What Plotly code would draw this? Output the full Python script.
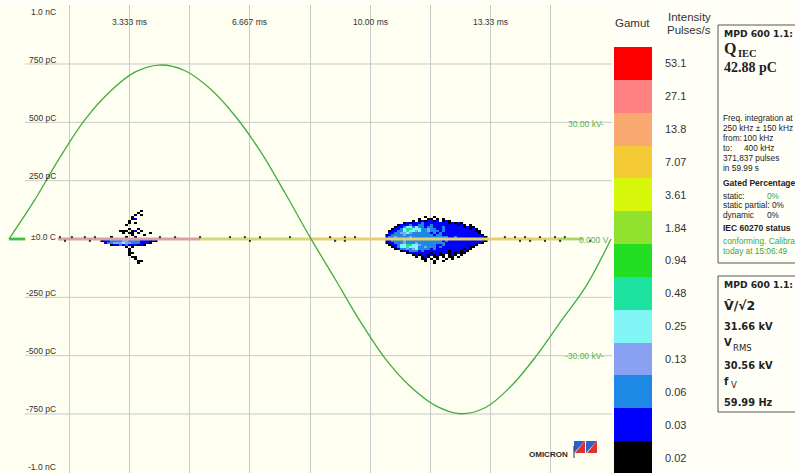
import plotly.graph_objects as go

W, H = 795, 473

# ---------------- data ----------------
period_ms = 16.669  # one cycle at 59.99 Hz

time_tick_values = [3.333, 6.667, 10.00, 13.33]
time_tick_labels = ["3.333 ms", "6.667 ms", "10.00 ms", "13.33 ms"]

charge_tick_values = [1000, 750, 500, 250, 0, -250, -500, -750, -1000]
charge_tick_labels = ["1.0 nC", "750 pC", "500 pC", "250 pC", "±0.0 C",
                      "-250 pC", "-500 pC", "-750 pC", "-1.0 nC"]
charge_grid_values = [750, 500, 250, -250, -500, -750]

voltage_tick_values = [30, 0, -30]
voltage_tick_labels = ["30.00 kV-", "0.000 V", "-30.00 kV-"]

voltage_time_ms = [0.0, 0.695, 1.389, 2.084, 2.778, 3.473, 4.167, 4.862, 5.556,
                   6.251, 6.945, 7.640, 8.334, 9.029, 9.724, 10.418, 11.113,
                   11.807, 12.502, 13.196, 13.891, 14.585, 15.280, 15.974, 16.669]
voltage_kv = [0.0, 9.8, 20.7, 30.5, 37.8, 42.9, 44.8, 43.4, 38.8,
              31.8, 22.8, 11.9, 0.5, -10.3, -21.2, -30.8, -38.0,
              -42.9, -45.0, -43.4, -38.0, -30.3, -21.2, -12.2, 0.0]

# gamut, top to bottom
gamut_labels = ["53.1", "27.1", "13.8", "7.07", "3.61", "1.84", "0.94",
                "0.48", "0.25", "0.13", "0.06", "0.03", "0.02"]
gamut_colors = ["#FF0000", "#FF8080", "#F9A870", "#F5CB35", "#D6F70A", "#90E22F",
                "#22DD22", "#1EE3A0", "#80F5F5", "#8AA0F2", "#1E88E5", "#0000FF",
                "#000000"]
gamut_codes = "rsaoylgtcpmbk"  # one letter per gamut class, top to bottom

# PRPD clusters as class maps (rows from high charge to low charge)
cluster_dt_ms = 0.0831
cluster_dq_pc = 8.571

big_cluster_t0_ms = 10.466
big_cluster_q0_pc = 94.3
big_cluster_rows = [
    ".............k..k",
    "...........k..kk.k.k",
    ".........k.kbkbbkb.kbk",
    "......kbkbbbmbbbbbbbbkbkbk",
    "....kbbbmbbmmbbmbbbbbbbbkbk.k",
    "...kbbmccmcmmbmmbbbmbbbbbbkbkk",
    "..kbbmcttcccmmpmmbbmbbbbbbbbkbk",
    ".kbbmmctccpcmmpmmmbmbbbbbbbbbbkk",
    ".bbmmppcpmmmmmmbmbmbbbbbbbbbbbbk",
    "kbmmmmpmmmmmmmmmbmmbbbbbbbbbbbbbk",
    "bmmpmmmmpmmmmmmmmmmmmbbmbbbbbbbbbk",
    "",
    "bbmmmmpmmmmmmmmmmmmbmbbbbbbbbbbbbk",
    "kbbmmmpmmmpmmmmmmmmmbbbbbbbbbbbbk",
    ".kbbmccttccpmmmmmbbmbbbbbbbbbbk",
    "..kbmcctcccmmpmmmbmbbbbbbbbbkk",
    "...kbmmpmpcmmmmbmbbbbbbbbbkbk",
    ".....kbbmmmbmbbbbbbbbkbbbkbk",
    ".......kbbbbbbbkbbkbbkbkbkk",
    ".........kbkbbkbkbkk.kbk.k",
    "..........k.kbk.kk.k.kk.k",
    "............kk.k.k..k.k",
    ".............k..k..k",
    "................k",
]

small_cluster_t0_ms = 2.575
small_cluster_q0_pc = 120.0
small_cluster_rows = [
    ".............k",
    "............k",
    "...........k.k",
    "..........k",
    "..........kb",
    ".........k",
    ".........k.k",
    "........k",
    "",
    ".........k..k",
    "......kkk.kb.k",
    ".......k.kk.k...k",
    "..........k...k",
    "...k....k..k",
    "",
    "kbbmmmmppmmmmbbbkbk",
    ".bmmpppcppmmmbbbk",
    "...kbbmbmbbbkbk",
    "........k.k",
    ".........k",
    ".........k",
    ".........kk",
    ".........k",
    "..........kk",
    "...........k",
    "............kk",
    "............k",
]

# near-zero noise band segments
band_start_ms = [0.0, 1.35, 5.3, 8.2, 15.2]
band_end_ms = [0.45, 5.3, 8.2, 15.2, 15.9]
band_colors = ["#40C040", "#D9A0A8", "#D5D878", "#E5D070", "#A8D860"]

speck_upper_ms = [1.41, 1.74, 2.10, 2.38, 4.18, 4.60, 5.29, 6.12, 6.53, 6.95,
                  7.78, 8.89, 9.30, 9.58, 13.73, 14.01, 14.29, 14.70, 15.12, 15.39]
speck_lower_ms = [1.55, 2.24, 6.67, 9.03, 9.30, 14.15, 14.43, 14.84, 15.26, 16.09]
speck_upper_pc = 8.0
speck_lower_pc = -8.0

# right-hand info panel
info_freq_lines = ["Freq. integration at", "250 kHz ± 150 kHz"]
info_pulses = "371,837 pulses"
info_time = "in 59.99 s"
q_iec_value = "42.88 pC"
v_peak_value = "31.66 kV"
v_rms_value = "30.56 kV"
f_value = "59.99 Hz"

# ---------------- geometry helpers ----------------
PX_PER_MS = 602 / period_ms
X0_PX = 9
PC_PER_PX = 4.286
Y0_PX = 239
KV_PER_PC = 0.06009


def px(x):
    return x / W


def py(y):
    return 1 - y / H


x_range = [(0 - X0_PX) / PX_PER_MS, (612 - X0_PX) / PX_PER_MS]
y_half = (Y0_PX - 5) * PC_PER_PX
y_range = [-y_half, y_half]
y2_range = [-y_half * KV_PER_PC, y_half * KV_PER_PC]

colors_bottom_up = gamut_colors[::-1]
code_index = {c: 12 - i for i, c in enumerate(gamut_codes)}
colorscale = []
for i, c in enumerate(colors_bottom_up):
    colorscale += [[i / 13, c], [(i + 1) / 13, c]]


def cluster_trace(rows, t0, q0):
    ncols = max(len(r) for r in rows)
    xs = [t0 + j * cluster_dt_ms for j in range(ncols)]
    ys = [q0 - i * cluster_dq_pc for i in range(len(rows))]
    z = []
    for r in rows:
        r = r.ljust(ncols, ".")
        z.append([code_index.get(ch) for ch in r])
    return go.Heatmap(x=xs, y=ys, z=z, colorscale=colorscale, zmin=-0.5, zmax=12.5,
                      showscale=False, hoverinfo="skip", zsmooth=False)


fig = go.Figure()

# noise band along zero
for s, e, c in zip(band_start_ms, band_end_ms, band_colors):
    fig.add_trace(go.Scatter(x=[s, e], y=[0, 0], mode="lines",
                             line=dict(color=c, width=2.8), hoverinfo="skip",
                             showlegend=False))

fig.add_trace(cluster_trace(big_cluster_rows, big_cluster_t0_ms, big_cluster_q0_pc))
fig.add_trace(cluster_trace(small_cluster_rows, small_cluster_t0_ms, small_cluster_q0_pc))

fig.add_trace(go.Scatter(
    x=speck_upper_ms + speck_lower_ms,
    y=[speck_upper_pc] * len(speck_upper_ms) + [speck_lower_pc] * len(speck_lower_ms),
    mode="markers", marker=dict(symbol="square", size=2, color="#303030"),
    hoverinfo="skip", showlegend=False))

# voltage sine
fig.add_trace(go.Scatter(x=voltage_time_ms, y=voltage_kv, yaxis="y2", mode="lines",
                         line=dict(color="#3FAE3F", width=1.3, shape="spline", smoothing=1.0),
                         hoverinfo="skip", showlegend=False))

# gamut legend
fig.add_trace(go.Heatmap(z=[[i] for i in range(13)], x=[0], y=list(range(13)),
                         xaxis="x3", yaxis="y3", colorscale=colorscale,
                         zmin=-0.5, zmax=12.5, showscale=False, hoverinfo="skip"))

grid_ticks = [period_ms * k / 10 for k in range(1, 11)]

shapes = []
for v in charge_grid_values:
    shapes.append(dict(type="line", xref="paper", yref="y", x0=px(25), x1=px(612),
                       y0=v, y1=v, line=dict(color="#C9C9C9", width=1), layer="below"))
# info boxes
for (y0, y1) in [(25, 263), (276, 412)]:
    shapes.append(dict(type="rect", xref="paper", yref="paper", x0=px(718), x1=px(800),
                       y0=py(y0), y1=py(y1), line=dict(color="#555555", width=1)))
# OMICRON logo
for lx in [574, 586]:
    shapes.append(dict(type="path", xref="paper", yref="paper",
                       path=f"M {px(lx)},{py(441)} L {px(lx+11)},{py(441)} L {px(lx)},{py(453)} Z",
                       fillcolor="#2F5FD0", line=dict(width=0)))
    shapes.append(dict(type="path", xref="paper", yref="paper",
                       path=f"M {px(lx+11)},{py(441)} L {px(lx+11)},{py(453)} L {px(lx+1)},{py(453)} Z",
                       fillcolor="#E03030", line=dict(width=0)))
shapes.append(dict(type="line", xref="paper", yref="paper", x0=px(574), x1=px(574),
                   y0=py(446), y1=py(458), line=dict(color="#333", width=1)))

ann = []


def A(text, x, y, size, family="Liberation Sans", color="#222222", xanchor="left",
      yanchor="middle"):
    ann.append(dict(text=text, x=px(x), y=py(y), xref="paper", yref="paper",
                    showarrow=False, xanchor=xanchor, yanchor=yanchor,
                    font=dict(size=size, family=family, color=color)))


# charge labels
label_shift = {1000: -6, 0: 2, -1000: 5}
for v, t in zip(charge_tick_values, charge_tick_labels):
    ann.append(dict(text=t, x=px(58), xref="paper", y=v, yref="y", showarrow=False,
                    xanchor="right", yanchor="middle", yshift=label_shift.get(v, 4.5),
                    font=dict(size=8.5, family="Liberation Sans", color="#333333")))
# time labels
for v, t in zip(time_tick_values, time_tick_labels):
    ann.append(dict(text=t, x=v, xref="x", y=py(22.5), yref="paper", showarrow=False,
                    xanchor="center", yanchor="middle",
                    font=dict(size=8.5, family="Liberation Sans", color="#333333")))
# voltage labels
for v, t in zip(voltage_tick_values, voltage_tick_labels):
    ann.append(dict(text=t, x=px(606 if v != 0 else 611), xref="paper", y=v, yref="y2",
                    showarrow=False, xanchor="right", yanchor="middle", yshift=-1,
                    font=dict(size=8.5, family="Liberation Sans", color="#55B455")))

# gamut header and values
A("Gamut", 632, 23, 11.5, xanchor="center", color="#333333")
A("Intensity", 689, 17, 11.5, xanchor="center", color="#333333")
A("Pulses/s", 689, 30, 11.5, xanchor="center", color="#333333")
for i, lab in enumerate(gamut_labels):
    ann.append(dict(text=lab, x=px(663), xref="paper", y=12 - i, yref="y3",
                    showarrow=False, xanchor="left", yanchor="middle",
                    font=dict(size=11, family="Liberation Sans", color="#333333")))

# info box 1
DJ = "DejaVu Sans"
SR = "Liberation Serif"
A("<b>MPD 600 1.1:</b>", 722, 33, 9.2, DJ)
A("<b>Q</b>", 722, 49, 16, SR)
A("<b>IEC</b>", 736, 53, 10.5, SR)
A(f"<b>{q_iec_value}</b>", 722, 68, 14, SR)
A(info_freq_lines[0], 721, 118, 8.3)
A(info_freq_lines[1], 721, 128, 8.3)
A("from:", 721, 138, 8.3)
A("100 kHz", 741, 138, 8.3)
A("to:", 721, 148, 8.3)
A("400 kHz", 742, 148, 8.3)
A(info_pulses, 721, 158, 8.3)
A(info_time, 721, 168, 8.3)
A("<b>Gated Percentage</b>", 721, 183, 8.5)
A("static:", 721, 196, 8.3)
A("0%", 765, 196, 8.3, color="#3AA83A")
A("static partial: 0%", 721, 205, 8.3)
A("dynamic", 721, 215, 8.3)
A("0%", 765, 215, 8.3)
A("<b>IEC 60270 status</b>", 721, 228, 8.5)
A("conforming. Calibrated", 721, 241, 8.3, color="#3AA83A")
A("today at 15:06:49", 721, 251, 8.3, color="#3AA83A")

# info box 2
A("<b>MPD 600 1.1:</b>", 722, 284, 9.2, DJ)
A("<b>V\u0302/\u221a2</b>", 722, 305, 12.5, DJ)
A(f"<b>{v_peak_value}</b>", 722, 326, 9.8, DJ)
A("<b>V</b>", 722, 342, 10, DJ)
A("RMS", 731, 348, 8.5, DJ)
A(f"<b>{v_rms_value}</b>", 722, 365, 9.8, DJ)
A("<b>f</b>", 722, 381, 10, DJ)
A("V", 729, 385, 8.5, DJ)
A(f"<b>{f_value}</b>", 722, 402, 9.8, DJ)

A("<b>OMICRON</b>", 548, 454, 8, color="#2A2A2A", xanchor="center")

fig.update_layout(
    width=W, height=H, margin=dict(l=0, r=0, t=0, b=0),
    paper_bgcolor="#FFFFF8", plot_bgcolor="#FEFEF1",
    showlegend=False,
    xaxis=dict(domain=[0, px(612)], range=x_range, tickvals=grid_ticks,
               showticklabels=False, showgrid=True, gridcolor="#C9C9C9", gridwidth=1,
               zeroline=False, showline=False, ticks=""),
    yaxis=dict(domain=[0, py(5)], range=y_range, showgrid=False, zeroline=False,
               showticklabels=False, ticks=""),
    yaxis2=dict(overlaying="y", range=y2_range, visible=False),
    xaxis3=dict(domain=[px(614), px(652)], range=[-0.5, 0.5], visible=False),
    yaxis3=dict(domain=[0, py(47)], range=[-0.47, 12.5], visible=False, anchor="x3"),
    shapes=shapes, annotations=ann,
)

fig.write_html("out.html")
